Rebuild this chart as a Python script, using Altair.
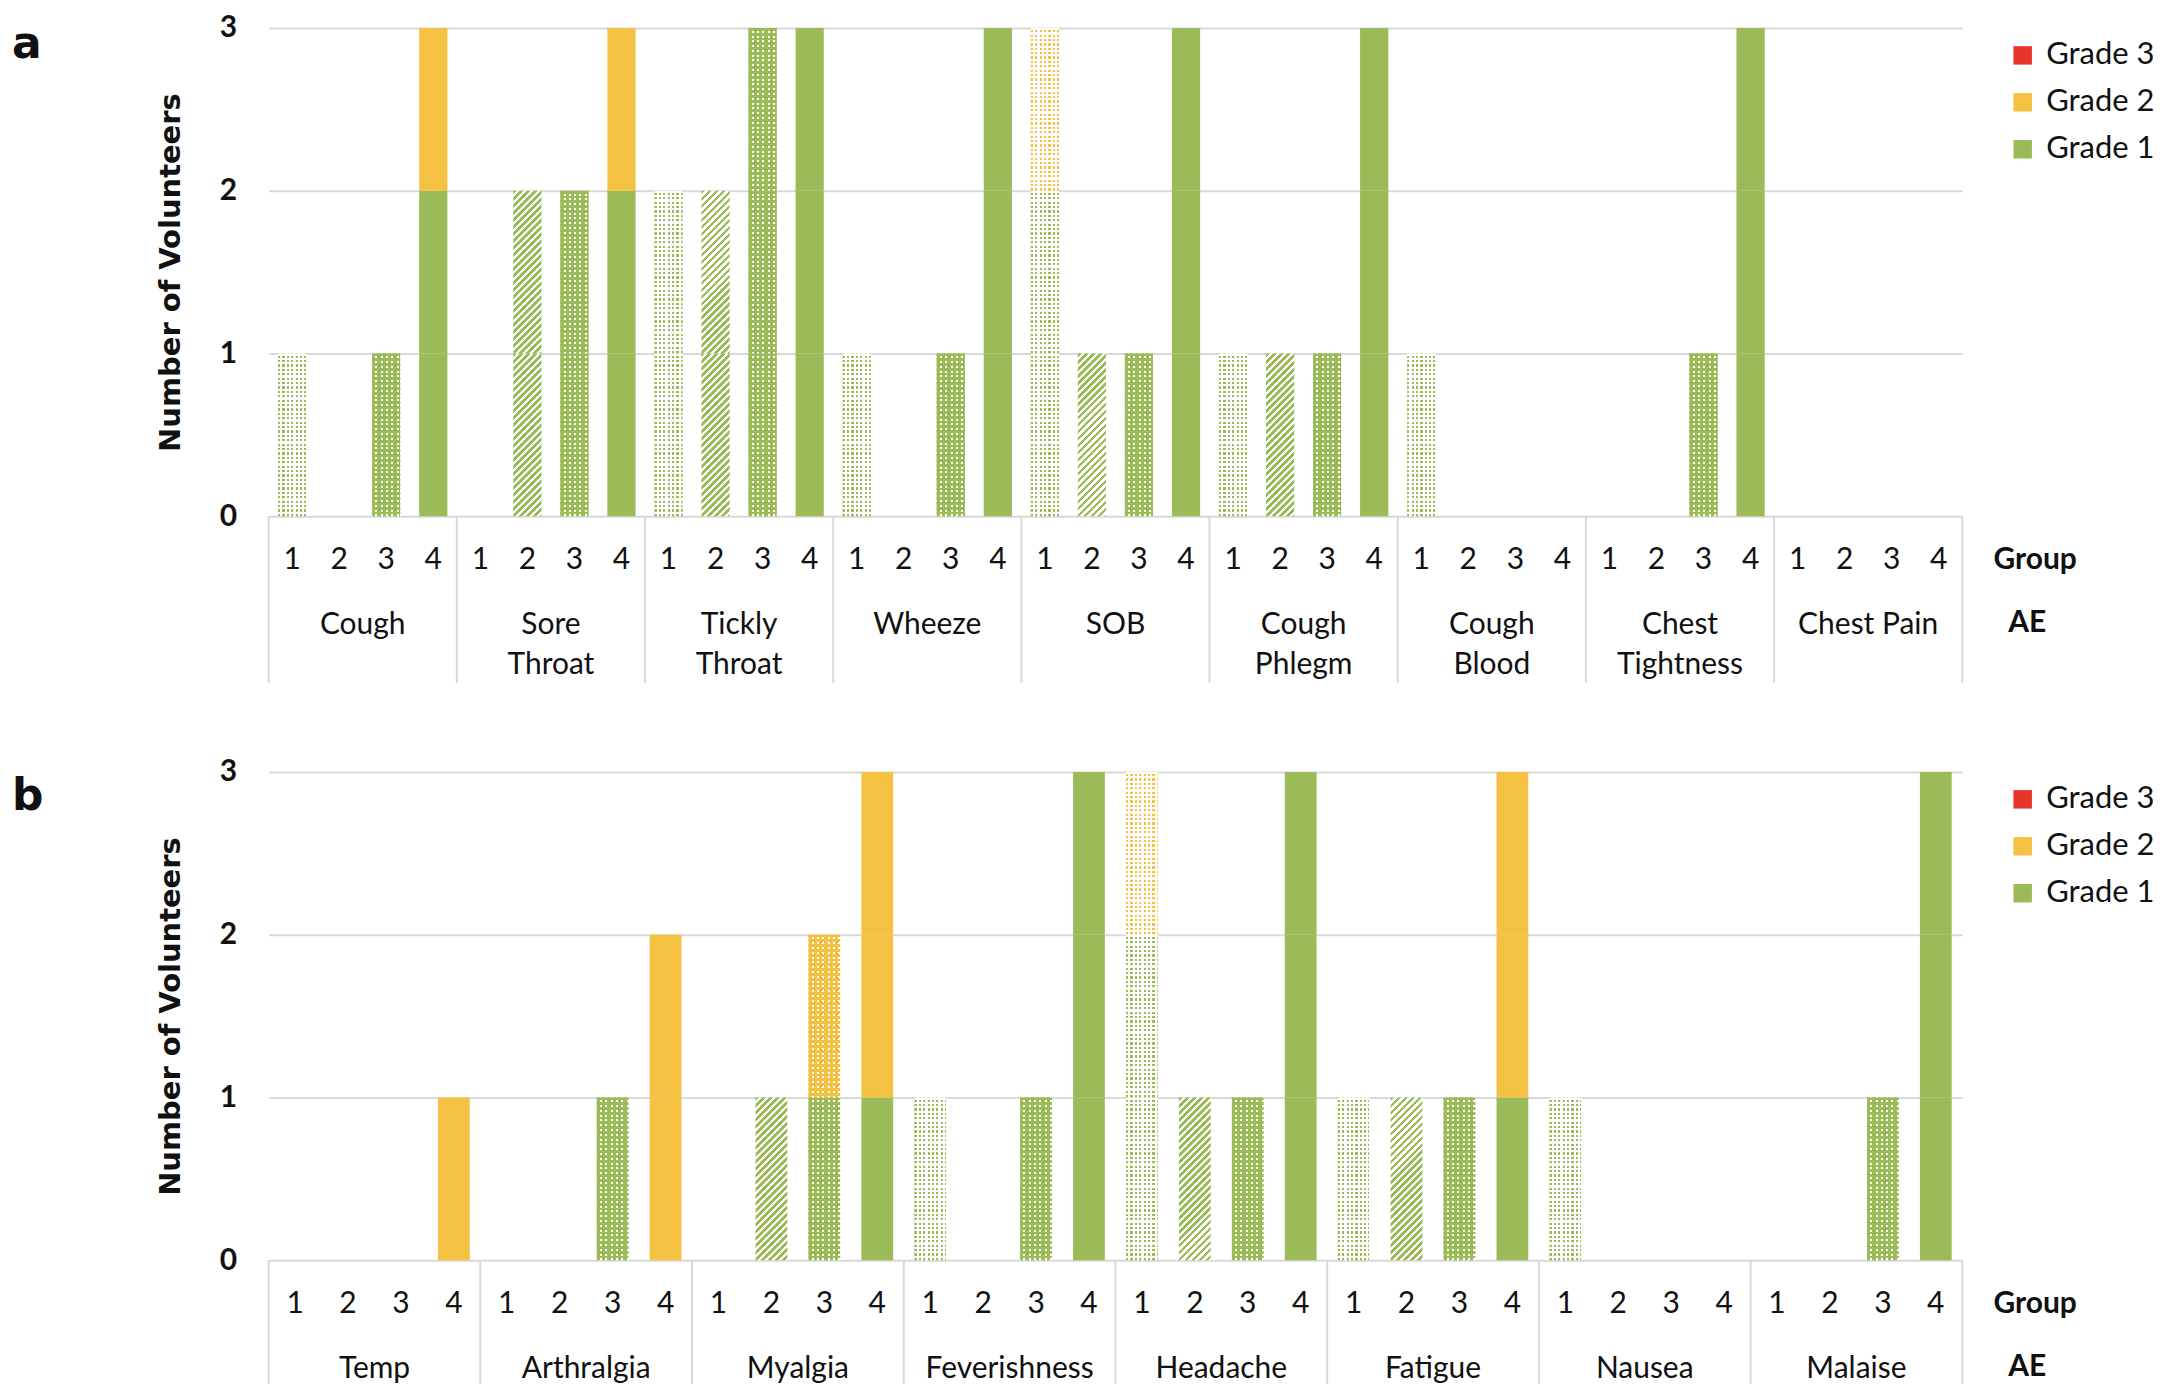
import altair as alt
import pandas as pd

# ---------------- data ----------------
GROUPS = [1, 2, 3, 4]
GRADES = ["Grade 1", "Grade 2", "Grade 3"]

AE_A = ["Cough", "Sore Throat", "Tickly Throat", "Wheeze", "SOB",
        "Cough Phlegm", "Cough Blood", "Chest Tightness", "Chest Pain"]
AE_A_LABEL = ["Cough", "Sore\nThroat", "Tickly\nThroat", "Wheeze", "SOB",
              "Cough\nPhlegm", "Cough\nBlood", "Chest\nTightness", "Chest Pain"]
# counts per AE for groups 1..4
G1_A = [[1, 0, 1, 2], [0, 2, 2, 2], [2, 2, 3, 3], [1, 0, 1, 3], [2, 1, 1, 3],
        [1, 1, 1, 3], [1, 0, 0, 0], [0, 0, 1, 3], [0, 0, 0, 0]]
G2_A = [[0, 0, 0, 1], [0, 0, 0, 1], [0, 0, 0, 0], [0, 0, 0, 0], [1, 0, 0, 0],
        [0, 0, 0, 0], [0, 0, 0, 0], [0, 0, 0, 0], [0, 0, 0, 0]]
G3_A = [[0, 0, 0, 0]] * 9

AE_B = ["Temp", "Arthralgia", "Myalgia", "Feverishness", "Headache",
        "Fatigue", "Nausea", "Malaise"]
AE_B_LABEL = AE_B
G1_B = [[0, 0, 0, 0], [0, 0, 1, 0], [0, 1, 1, 1], [1, 0, 1, 3], [2, 1, 1, 3],
        [1, 1, 1, 1], [1, 0, 0, 0], [0, 0, 1, 3]]
G2_B = [[0, 0, 0, 1], [0, 0, 0, 2], [0, 0, 1, 2], [0, 0, 0, 0], [1, 0, 0, 0],
        [0, 0, 0, 2], [0, 0, 0, 0], [0, 0, 0, 0]]
G3_B = [[0, 0, 0, 0]] * 8

Y_TICKS = [0, 1, 2, 3]
LEGEND_ORDER = ["Grade 3", "Grade 2", "Grade 1"]

# ---------------- style ----------------
GREEN = "#9bbb59"
ORANGE = "#f4c142"
RED = "#e8352b"
WHITE = "#ffffff"
CLEAR = "rgba(255,255,255,0)"
GRID = "#d9d9d9"
TXT = "#111111"
FONT = "Lato"
GRADE_COLOR = {"Grade 1": GREEN, "Grade 2": ORANGE, "Grade 3": RED}

W = 1696
H = 489
UNIT = H / 3.0
TABLE_A = 167
TABLE_B = 124


def stripe_stops(length, period, on, on_color, off_color, scale):
    stops = []
    s = 0.0
    while s < length - 1e-9:
        e = min(s + on, length)
        f = min(s + period, length)
        for p, c in ((s, on_color), (e, on_color), (e, off_color), (f, off_color)):
            stops.append({"offset": round(min(p * scale, 1.0), 5), "color": c})
        s += period
    return stops


def vstripes(w, period, on, on_color, off_color):
    return {"gradient": "linear", "x1": 0, "y1": 0, "x2": 1, "y2": 0,
            "stops": stripe_stops(w, period, on, on_color, off_color, 1.0 / w)}


def hstripes(h, period, on, on_color, off_color):
    return {"gradient": "linear", "x1": 0, "y1": 0, "x2": 0, "y2": 1,
            "stops": stripe_stops(h, period, on, on_color, off_color, 1.0 / h)}


def dstripes(w, h, period, on, on_color, off_color):
    k = w / (w * w + h * h)
    return {"gradient": "linear", "x1": 0, "y1": 0, "x2": 1, "y2": round(h / w, 5),
            "stops": stripe_stops(w + h, period, on, on_color, off_color, k)}


def pattern_layers(group, color, w):
    if group == 1:
        return [vstripes(w, 4.4, 2.2, color, WHITE), hstripes(UNIT, 4.4, 2.2, WHITE, CLEAR)]
    if group == 2:
        return [dstripes(w, UNIT, 7.0, 3.8, color, WHITE)]
    if group == 3:
        return [vstripes(w, 5.3, 3.3, color, WHITE), hstripes(UNIT, 4.8, 2.8, color, CLEAR)]
    return [color]


def panel(aes, labels, g1, g2, g3, letter, letter_x, letter_y, table_len):
    n = len(aes)
    step = W / (4.0 * n)
    bw = 0.6 * step
    rows = []
    for i, ae in enumerate(aes):
        for gi, g in enumerate(GROUPS):
            base = 0
            for grade, counts in (("Grade 1", g1), ("Grade 2", g2), ("Grade 3", g3)):
                c = counts[i][gi]
                for k in range(c):
                    rows.append({"ae": ae, "group": g, "slot": i * 4 + gi,
                                 "grade": grade, "lo": base + k, "hi": base + k + 1})
                base += c
    bars = pd.DataFrame(rows)

    xs = alt.Scale(domain=[0, 4 * n], nice=False, zero=False)
    ys = alt.Scale(domain=[0, 3], nice=False)
    yaxis = alt.Axis(values=Y_TICKS, grid=True, gridColor=GRID, gridWidth=2,
                     domain=False, ticks=False, labelFont=FONT, labelFontSize=30,
                     labelFontWeight="bold", labelColor=TXT, labelPadding=32,
                     title="Number of Volunteers", titleFont="DejaVu Sans",
                     titleFontSize=29, titleFontWeight="bold", titleColor=TXT,
                     titlePadding=34, format="d")

    base = alt.Chart(bars).transform_calculate(
        x0="datum.slot + 0.2", x1="datum.slot + 0.8"
    ).encode(
        x=alt.X("x0:Q", scale=xs, axis=None),
        x2="x1:Q",
        y=alt.Y("lo:Q", scale=ys, axis=yaxis),
        y2="hi:Q",
    )

    layers = []
    for g in GROUPS:
        for grade in GRADES:
            for fill in pattern_layers(g, GRADE_COLOR[grade], bw):
                layers.append(
                    base.mark_rect(fill=fill, strokeWidth=0).transform_filter(
                        f"datum.group == {g} && datum.grade == '{grade}'")
                )

    # table: separators, group numbers, AE names
    seps = pd.DataFrame({"b": [4 * i for i in range(n + 1)]})
    layers.append(
        alt.Chart(seps).mark_rule(color=GRID, strokeWidth=2).encode(
            x=alt.X("b:Q", scale=xs, axis=None),
            y=alt.value(H), y2=alt.value(H + table_len))
    )
    slots = pd.DataFrame({"slot": list(range(4 * n)),
                          "g": [str(GROUPS[s % 4]) for s in range(4 * n)]})
    layers.append(
        alt.Chart(slots).transform_calculate(xc="datum.slot + 0.5").mark_text(
            font=FONT, fontSize=30, color=TXT, baseline="middle", align="center"
        ).encode(x=alt.X("xc:Q", scale=xs, axis=None), y=alt.value(H + 44), text="g:N")
    )
    aedf = pd.DataFrame({"i": list(range(n)), "lab": labels})
    layers.append(
        alt.Chart(aedf).transform_calculate(xc="datum.i * 4 + 2").mark_text(
            font=FONT, fontSize=30, color=TXT, baseline="alphabetic", align="center",
            lineBreak="\n", lineHeight=40
        ).encode(x=alt.X("xc:Q", scale=xs, axis=None), y=alt.value(H + 118), text="lab:N")
    )
    one = pd.DataFrame({"k": [0]})
    layers.append(
        alt.Chart(one).mark_text(text="Group", font=FONT, fontSize=30, fontWeight="bold",
                                 color=TXT, baseline="middle", align="center").encode(
            x=alt.value(W + 73), y=alt.value(H + 44))
    )
    layers.append(
        alt.Chart(one).mark_text(text="AE", font=FONT, fontSize=30, fontWeight="bold",
                                 color=TXT, baseline="middle", align="center").encode(
            x=alt.value(W + 65), y=alt.value(H + 107))
    )
    layers.append(
        alt.Chart(one).mark_text(text=letter, font="DejaVu Sans", fontSize=44,
                                 fontWeight="bold", color=TXT, baseline="alphabetic",
                                 align="left").encode(
            x=alt.value(letter_x), y=alt.value(letter_y))
    )
    # legend carrier
    leg = pd.DataFrame({"grade": LEGEND_ORDER})
    layers.append(
        alt.Chart(leg).mark_square(opacity=0, size=1).encode(
            x=alt.value(0), y=alt.value(0),
            color=alt.Color("grade:N",
                            scale=alt.Scale(domain=LEGEND_ORDER,
                                            range=[GRADE_COLOR[g] for g in LEGEND_ORDER]),
                            sort=LEGEND_ORDER,
                            legend=alt.Legend(orient="none", legendX=W + 45, legendY=12,
                                              title=None, symbolType="square",
                                              symbolSize=342, symbolOpacity=1,
                                              symbolStrokeWidth=0, labelFont=FONT,
                                              labelFontSize=31, labelColor=TXT,
                                              labelOffset=8, rowPadding=15, padding=0)))
    )
    return alt.layer(*layers).properties(width=W, height=H)


pa = panel(AE_A, AE_A_LABEL, G1_A, G2_A, G3_A, "a", -257, 30, TABLE_A)
pb = panel(AE_B, AE_B_LABEL, G1_B, G2_B, G3_B, "b", -257, 38, TABLE_B)

chart = alt.vconcat(pa, pb, spacing=73).resolve_scale(
    color="independent", x="independent", y="independent"
).resolve_legend(color="independent").configure_view(strokeWidth=0).properties(
    padding={"left": 4, "top": 4, "right": 0, "bottom": 0}
)

chart.save("out.html", embed_options={"renderer": "svg", "actions": False})
